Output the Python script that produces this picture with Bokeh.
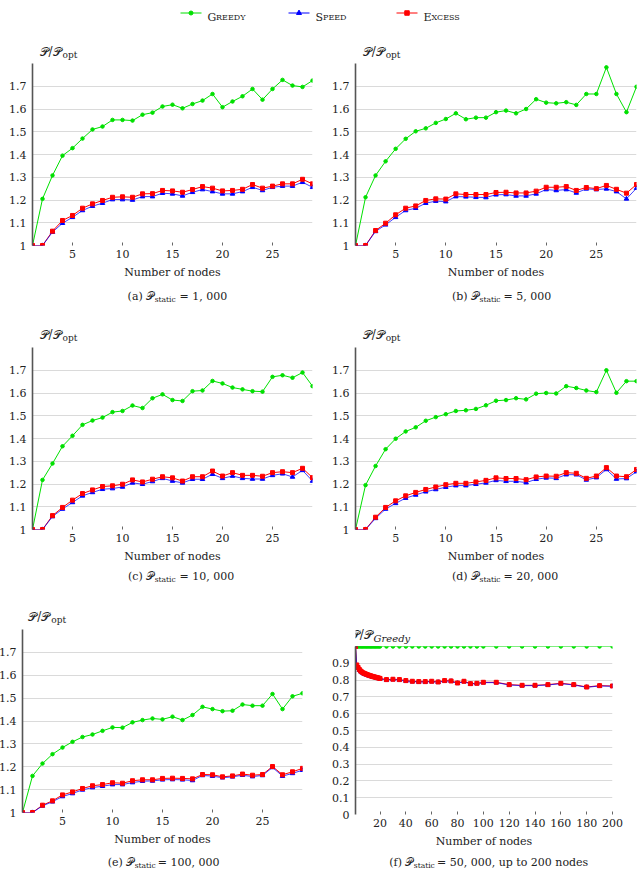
from bokeh.plotting import figure
from bokeh.layouts import column, row
from bokeh.models import Range1d, FixedTicker, NumeralTickFormatter
from bokeh.embed import file_html
from bokeh.resources import INLINE
from bokeh.core.properties import value

# ---------------- data ----------------
nodes = list(range(1, 30))

greedy_a = [1.000, 1.205, 1.308, 1.395, 1.428, 1.470, 1.510, 1.523, 1.552, 1.552, 1.549, 1.575, 1.584, 1.611, 1.619,
            1.603, 1.622, 1.637, 1.666, 1.608, 1.633, 1.656, 1.688, 1.641, 1.688, 1.728, 1.703, 1.697, 1.725]
speed_a = [1.000, 1.000, 1.059, 1.098, 1.124, 1.154, 1.173, 1.186, 1.202, 1.202, 1.200, 1.215, 1.215, 1.230, 1.227,
           1.218, 1.234, 1.246, 1.237, 1.227, 1.227, 1.237, 1.256, 1.242, 1.256, 1.261, 1.261, 1.278, 1.256]
excess_a = [1.000, 1.000, 1.063, 1.110, 1.132, 1.164, 1.183, 1.198, 1.212, 1.214, 1.212, 1.227, 1.228, 1.242, 1.240,
            1.234, 1.246, 1.259, 1.252, 1.240, 1.242, 1.247, 1.268, 1.252, 1.261, 1.271, 1.271, 1.291, 1.271]

greedy_b = [1.000, 1.212, 1.308, 1.370, 1.425, 1.469, 1.502, 1.515, 1.539, 1.556, 1.581, 1.555, 1.562, 1.562, 1.586,
            1.593, 1.581, 1.600, 1.643, 1.628, 1.625, 1.630, 1.618, 1.666, 1.666, 1.783, 1.666, 1.586, 1.698]
speed_b = [1.000, 1.000, 1.062, 1.091, 1.124, 1.154, 1.164, 1.186, 1.195, 1.193, 1.215, 1.214, 1.212, 1.211, 1.223,
           1.224, 1.218, 1.218, 1.227, 1.246, 1.242, 1.246, 1.231, 1.249, 1.246, 1.249, 1.237, 1.205, 1.252]
excess_b = [1.000, 1.000, 1.066, 1.098, 1.135, 1.164, 1.174, 1.198, 1.205, 1.204, 1.227, 1.224, 1.224, 1.224, 1.233,
            1.234, 1.231, 1.231, 1.239, 1.256, 1.256, 1.259, 1.242, 1.255, 1.250, 1.264, 1.247, 1.230, 1.268]

greedy_c = [1.000, 1.218, 1.290, 1.366, 1.412, 1.460, 1.479, 1.492, 1.516, 1.521, 1.545, 1.534, 1.577, 1.594, 1.569,
            1.565, 1.608, 1.611, 1.653, 1.642, 1.624, 1.616, 1.608, 1.606, 1.671, 1.678, 1.667, 1.690, 1.630]
speed_c = [1.000, 1.000, 1.057, 1.090, 1.119, 1.148, 1.163, 1.177, 1.180, 1.187, 1.205, 1.199, 1.211, 1.225, 1.213,
           1.205, 1.221, 1.221, 1.243, 1.225, 1.235, 1.225, 1.222, 1.222, 1.238, 1.245, 1.231, 1.260, 1.213]
excess_c = [1.000, 1.000, 1.061, 1.097, 1.129, 1.158, 1.174, 1.189, 1.192, 1.199, 1.218, 1.209, 1.221, 1.232, 1.227,
            1.213, 1.232, 1.232, 1.257, 1.235, 1.250, 1.238, 1.238, 1.234, 1.250, 1.254, 1.250, 1.269, 1.228]

greedy_d = [1.000, 1.195, 1.279, 1.353, 1.399, 1.431, 1.449, 1.478, 1.494, 1.507, 1.521, 1.524, 1.530, 1.546, 1.566,
            1.569, 1.577, 1.572, 1.597, 1.600, 1.598, 1.630, 1.622, 1.611, 1.604, 1.700, 1.601, 1.652, 1.652]
speed_d = [1.000, 1.000, 1.049, 1.090, 1.115, 1.138, 1.152, 1.166, 1.176, 1.186, 1.193, 1.193, 1.199, 1.205, 1.216,
           1.212, 1.212, 1.206, 1.221, 1.227, 1.225, 1.241, 1.241, 1.218, 1.228, 1.264, 1.222, 1.224, 1.254]
excess_d = [1.000, 1.000, 1.054, 1.097, 1.126, 1.148, 1.163, 1.176, 1.187, 1.197, 1.203, 1.203, 1.209, 1.216, 1.227,
            1.224, 1.224, 1.219, 1.231, 1.235, 1.234, 1.250, 1.247, 1.225, 1.235, 1.272, 1.235, 1.232, 1.264]

greedy_e = [1.000, 1.160, 1.214, 1.255, 1.284, 1.309, 1.330, 1.341, 1.357, 1.372, 1.371, 1.394, 1.404, 1.411, 1.407,
            1.419, 1.404, 1.426, 1.462, 1.452, 1.443, 1.445, 1.472, 1.467, 1.467, 1.518, 1.452, 1.508, 1.521]
speed_e = [1.000, 1.000, 1.029, 1.047, 1.070, 1.083, 1.099, 1.109, 1.115, 1.122, 1.122, 1.131, 1.137, 1.138, 1.143,
           1.144, 1.143, 1.140, 1.162, 1.159, 1.152, 1.156, 1.163, 1.157, 1.162, 1.197, 1.159, 1.171, 1.185]
excess_e = [1.000, 1.000, 1.032, 1.051, 1.077, 1.090, 1.105, 1.117, 1.122, 1.130, 1.128, 1.139, 1.143, 1.143, 1.149,
            1.150, 1.149, 1.147, 1.166, 1.165, 1.156, 1.160, 1.168, 1.163, 1.166, 1.201, 1.165, 1.178, 1.193]

nodes_f = [1, 2, 3, 4, 5, 6, 7, 8, 9, 10, 11, 12, 13, 14, 15, 16, 17, 18, 19, 20,
           25, 30, 35, 40, 45, 50, 55, 60, 65, 70, 75, 80, 85, 90, 95, 100,
           110, 120, 130, 140, 150, 160, 170, 180, 190, 200]
greedy_f = [1.0] * len(nodes_f)
speed_f = [1.000, 0.886, 0.871, 0.859, 0.851, 0.845, 0.840, 0.836, 0.833, 0.830, 0.827, 0.825, 0.822, 0.820, 0.818,
           0.816, 0.814, 0.812, 0.810, 0.808,
           0.801, 0.803, 0.801, 0.795, 0.791, 0.789, 0.789, 0.791, 0.787, 0.795, 0.793, 0.781, 0.791, 0.777, 0.779, 0.785,
           0.785, 0.771, 0.767, 0.767, 0.771, 0.779, 0.771, 0.757, 0.765, 0.763]
excess_f = [1.000, 0.890, 0.875, 0.863, 0.854, 0.848, 0.843, 0.839, 0.836, 0.833, 0.830, 0.827, 0.825, 0.822, 0.820,
            0.818, 0.816, 0.814, 0.812, 0.810,
            0.803, 0.805, 0.803, 0.797, 0.793, 0.791, 0.791, 0.793, 0.789, 0.797, 0.795, 0.783, 0.793, 0.779, 0.781, 0.787,
            0.787, 0.773, 0.769, 0.769, 0.773, 0.781, 0.773, 0.759, 0.767, 0.765]

yticks_opt = [1, 1.1, 1.2, 1.3, 1.4, 1.5, 1.6, 1.7]
yticks_f = [0, 0.1, 0.2, 0.3, 0.4, 0.5, 0.6, 0.7, 0.8, 0.9]
xticks_small = [5, 10, 15, 20, 25]
xticks_f = [20, 40, 60, 80, 100, 120, 140, 160, 180, 200]

series_names = ["G", "REEDY", "S", "PEED", "E", "XCESS"]
caption_values = ["1, 000", "5, 000", "10, 000", "20, 000", "100, 000", "50, 000, up to 200 nodes"]
x_title = "Number of nodes"

# ---------------- style ----------------
FONT = "DejaVu Serif"
GREEN = "#00e000"
BLUE = "#0000ff"
RED = "#ff0000"
TXT = "#222222"
SCRIPT_P = "\U0001D4AB"


def strip(w, h, margin=None):
    kw = {}
    if margin is not None:
        kw["margin"] = margin
    f = figure(width=w, height=h, x_range=Range1d(0, w), y_range=Range1d(h, 0),
               output_backend="svg", toolbar_location=None, min_border=0,
               x_axis_location=None, y_axis_location=None, outline_line_color=None, **kw)
    f.grid.visible = False
    return f


def put_text(f, x, y, txt, size="11px", align="left", style="normal", baseline="middle"):
    f.text([x], [y], text=[txt], text_font=value(FONT), text_font_size=size, text_font_style=style,
           text_color=TXT, text_align=align, text_baseline=baseline)


def make_panel(xs, g, s, e, width, height, mbl, mbr, mbt, mbb, xr, yr, yticks, xticks):
    p = figure(width=width, height=height, x_range=Range1d(*xr), y_range=Range1d(*yr),
               output_backend="svg", toolbar_location=None,
               min_border_left=mbl, min_border_right=mbr, min_border_top=mbt, min_border_bottom=mbb,
               outline_line_color=None, background_fill_color="white", border_fill_color="white")
    p.xgrid.visible = False
    p.ygrid.ticker = FixedTicker(ticks=yticks)
    p.ygrid.grid_line_color = "#dadada"
    p.ygrid.grid_line_width = 1

    ya = p.yaxis[0]
    ya.ticker = FixedTicker(ticks=yticks)
    ya.formatter = NumeralTickFormatter(format="0.[0]")
    ya.axis_line_color = "#555555"
    ya.axis_line_width = 1.6
    ya.major_tick_out = 0
    ya.major_tick_in = 0
    ya.minor_tick_out = 0
    ya.minor_tick_in = 0
    ya.major_label_standoff = 6
    ya.major_label_text_font = FONT
    ya.major_label_text_font_size = "11px"
    ya.major_label_text_color = TXT

    xa = p.xaxis[0]
    xa.ticker = FixedTicker(ticks=xticks)
    xa.axis_line_color = None
    xa.major_tick_out = 0
    xa.major_tick_in = 3
    xa.major_tick_line_color = "#666666"
    xa.minor_tick_out = 0
    xa.minor_tick_in = 0
    xa.major_label_standoff = 4
    xa.major_label_text_font = FONT
    xa.major_label_text_font_size = "11px"
    xa.major_label_text_color = TXT
    xa.axis_label = x_title
    xa.axis_label_text_font = FONT
    xa.axis_label_text_font_size = "11px"
    xa.axis_label_text_font_style = "normal"
    xa.axis_label_text_color = TXT
    xa.axis_label_standoff = 5

    p.line(xs, g, line_color=GREEN, line_width=1)
    p.scatter(xs, g, marker="circle", size=3.5, fill_color=GREEN, line_color=GREEN)
    p.line(xs, e, line_color=RED, line_width=1)
    p.line(xs, s, line_color=BLUE, line_width=1, line_alpha=0.75)
    p.scatter(xs, s, marker="triangle", size=4.5, fill_color=BLUE, line_color=BLUE)
    p.scatter(xs, e, marker="square", size=4, fill_color=RED, line_color=RED)
    return p


def title_strip(w, h, main_x, y, sub, sub_style="normal", sub_size="9px"):
    f = strip(w, h)
    put_text(f, main_x, y, SCRIPT_P + "/" + SCRIPT_P, size="12px", align="right")
    put_text(f, main_x + 1, y + 3.5, sub, size=sub_size, style=sub_style)
    return f


def caption_strip(w, h, letter, idx, sub_x, suf_x, y):
    f = strip(w, h)
    put_text(f, sub_x, y, "(" + letter + ") " + SCRIPT_P, align="right")
    put_text(f, sub_x + 0.5, y + 3, "static", size="7.5px")
    put_text(f, suf_x, y, "= " + caption_values[idx])
    return f


yr_opt = (1.0, 1.8)
xr_small = (1, 29)

# ---- row 1 (a, b): y 28..320 ----
ta = title_strip(322, 35, 33.5, 23, "opt")
fa = make_panel(nodes, greedy_a, speed_a, excess_a, 322, 221, 32, 10, 0, 39, xr_small, yr_opt, yticks_opt, xticks_small)
ca = caption_strip(322, 36, "a", 0, 140, 169, 12)

tb = title_strip(317, 35, 33, 23, "opt")
fb = make_panel(nodes, greedy_b, speed_b, excess_b, 317, 221, 33, 3, 0, 39, xr_small, yr_opt, yticks_opt, xticks_small)
cb = caption_strip(317, 36, "b", 1, 139.5, 167, 12)

# ---- row 2 (c, d): y 320..600 ----
tc = title_strip(322, 27, 33.5, 14, "opt")
fc = make_panel(nodes, greedy_c, speed_c, excess_c, 322, 221, 32, 10, 0, 39, xr_small, yr_opt, yticks_opt, xticks_small)
cc = caption_strip(322, 32, "c", 2, 140, 169, 8)

td = title_strip(317, 27, 33, 14, "opt")
fd = make_panel(nodes, greedy_d, speed_d, excess_d, 317, 221, 33, 3, 0, 39, xr_small, yr_opt, yticks_opt, xticks_small)
cd = caption_strip(317, 32, "d", 3, 139.5, 167, 8)

# ---- row 3 (e, f): y 600..873 ----
te = title_strip(328, 29, 32.7, 16, "opt")
fe = make_panel(nodes, greedy_e, speed_e, excess_e, 328, 221, 28, 20, 0, 38, xr_small, yr_opt, yticks_opt, xticks_small)
ce = caption_strip(328, 23, "e", 4, 131, 158.5, 12)
col_e = column(te, fe, ce, spacing=0, margin=(0, 0, 0, -6))

tf = title_strip(317, 46, 21.3, 34, "Greedy", sub_style="italic", sub_size="10px")
ff = make_panel(nodes_f, greedy_f, speed_f, excess_f, 317, 204, 33, 27, 0, 36, (1, 200), (0, 1.0), yticks_f, xticks_f)
cf = caption_strip(317, 23, "f", 5, 71.5, 100.5, 12)

# ---------------- legend strip ----------------
leg = strip(639, 28)
leg_cy = 12.5
leg_items = [(180, GREEN, "circle", 3.5, 0), (288, BLUE, "triangle", 4.5, 2), (396, RED, "square", 4, 4)]
for x0, col, mk, sz, ni in leg_items:
    leg.line([x0, x0 + 21], [leg_cy, leg_cy], line_color=col, line_width=1)
    leg.scatter([x0 + 10.5], [leg_cy], marker=mk, size=sz + 0.5, fill_color=col, line_color=col)
    cap_w = {"G": 8.6, "S": 7.5, "E": 8.0}[series_names[ni]]
    put_text(leg, x0 + 27, leg_cy + 4, series_names[ni], size="11px", baseline="alphabetic")
    put_text(leg, x0 + 27 + cap_w, leg_cy + 4, series_names[ni + 1], size="8px", baseline="alphabetic")

layout = column(
    leg,
    row(column(ta, fa, ca, spacing=0), column(tb, fb, cb, spacing=0), spacing=0),
    row(column(tc, fc, cc, spacing=0), column(td, fd, cd, spacing=0), spacing=0),
    row(col_e, column(tf, ff, cf, spacing=0), spacing=0),
    spacing=0,
)

open("out.html", "w").write(file_html(layout, INLINE))
